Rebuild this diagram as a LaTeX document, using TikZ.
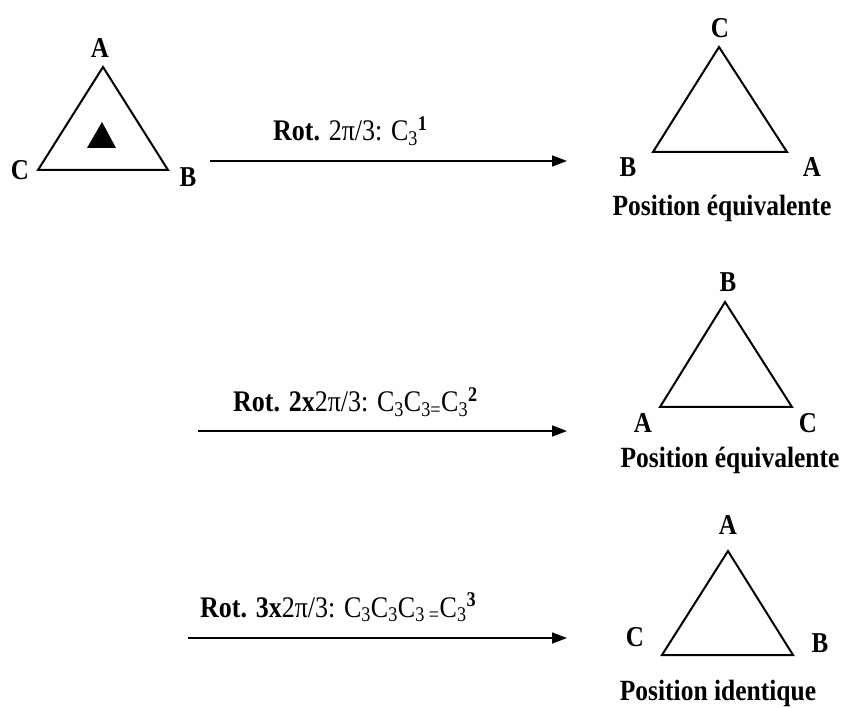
\documentclass[tikz,border=0pt]{standalone}
\usepackage{fontspec}
\usepackage{graphicx}
\setmainfont{Liberation Serif}
\usetikzlibrary{arrows.meta}
\newcommand{\vsc}[1]{\scalebox{1}[1.15]{#1}}
\begin{document}
\begin{tikzpicture}[x=1pt,y=1pt,
  tri/.style={line width=2pt, line join=miter},
  arr/.style={line width=1.6pt, -{Triangle[length=15pt,width=11pt]}},
  vlab/.style={font=\fontsize{25}{27}\selectfont\bfseries, inner sep=0pt},
  captxt/.style={font=\fontsize{25.5}{28}\selectfont\bfseries, inner sep=0pt},
  rot/.style={font=\fontsize{26}{28}\selectfont, inner sep=0pt, anchor=base west}]
\useasboundingbox (0,0) rectangle (841,-708);

% Triangle 1
\coordinate (t1c) at (38,-170);
\coordinate (t1a) at (103,-67);
\coordinate (t1b) at (168,-170);
\draw[tri] (t1c) -- (t1a) -- (t1b) -- cycle;
\coordinate (i1) at (87,-148);
\coordinate (i2) at (102,-122);
\coordinate (i3) at (116,-148);
\fill (i1) -- (i2) -- (i3) -- cycle;
\node[vlab] (l1a) at (100,-48) {\vsc{A}};
\node[vlab] (l1c) at (20,-170) {\vsc{C}};
\node[vlab] (l1b) at (188,-177) {\vsc{B}};

% Arrow 1
\coordinate (a1s) at (210,-161);
\coordinate (a1e) at (567,-161);
\draw[arr] (a1s) -- (a1e);
\node[rot] (r1) at (273,-141) {\vsc{\textbf{Rot.} 2π/3: C\textsubscript{3}\textsuperscript{\textbf{1}}}};

% Triangle 2
\coordinate (t2b) at (653,-152);
\coordinate (t2c) at (719,-47);
\coordinate (t2a) at (787,-152);
\draw[tri] (t2b) -- (t2c) -- (t2a) -- cycle;
\node[vlab] (l2c) at (720,-28) {\vsc{C}};
\node[vlab] (l2b) at (628,-167) {\vsc{B}};
\node[vlab] (l2a) at (812,-167) {\vsc{A}};
\node[captxt] (p2) at (722,-208) {\vsc{Position équivalente}};

% Arrow 2
\coordinate (a2s) at (198,-431);
\coordinate (a2e) at (567,-431);
\draw[arr] (a2s) -- (a2e);
\node[rot] (r2) at (233,-412) {\vsc{\textbf{Rot. 2x}2π/3: C\textsubscript{3}C\textsubscript{3=}C\textsubscript{3}\textsuperscript{\textbf{2}}}};

% Triangle 3
\coordinate (t3a) at (660,-407);
\coordinate (t3b) at (725,-302);
\coordinate (t3c) at (792,-407);
\draw[tri] (t3a) -- (t3b) -- (t3c) -- cycle;
\node[vlab] (l3b) at (728,-282) {\vsc{B}};
\node[vlab] (l3a) at (643,-423) {\vsc{A}};
\node[vlab] (l3c) at (808,-423) {\vsc{C}};
\node[captxt] (p3) at (730,-460) {\vsc{Position équivalente}};

% Arrow 3
\coordinate (a3s) at (188,-638);
\coordinate (a3e) at (567,-638);
\draw[arr] (a3s) -- (a3e);
\node[rot] (r3) at (200,-617) {\vsc{\textbf{Rot. 3x}2π/3: C\textsubscript{3}C\textsubscript{3}C\textsubscript{3 =}C\textsubscript{3}\textsuperscript{\textbf{3}}}};

% Triangle 4
\coordinate (t4c) at (662,-655);
\coordinate (t4a) at (728,-551);
\coordinate (t4b) at (793,-655);
\draw[tri] (t4c) -- (t4a) -- (t4b) -- cycle;
\node[vlab] (l4a) at (728,-525) {\vsc{A}};
\node[vlab] (l4c) at (635,-637) {\vsc{C}};
\node[vlab] (l4b) at (820,-643) {\vsc{B}};
\node[captxt] (p4) at (718,-693) {\vsc{Position identique}};
\end{tikzpicture}
\end{document}
